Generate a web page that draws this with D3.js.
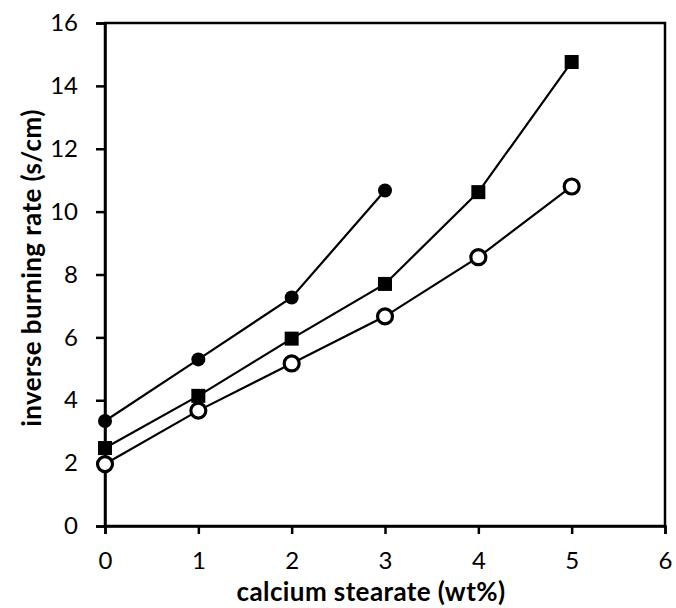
<!DOCTYPE html>
<html><head><meta charset="utf-8">
<script src="https://cdn.jsdelivr.net/npm/d3@7"></script>
<style>body{margin:0;background:#fff}svg{display:block}</style>
</head><body>
<script>
const xValues = [0, 1, 2, 3, 4, 5];
const seriesCircle = [3.34, 5.30, 7.27, 10.67];
const seriesSquare = [2.48, 4.14, 5.96, 7.70, 10.62, 14.76];
const seriesOpen = [1.97, 3.67, 5.17, 6.67, 8.55, 10.80];
const xTicks = [0, 1, 2, 3, 4, 5, 6];
const yTicks = [0, 2, 4, 6, 8, 10, 12, 14, 16];
const xTitle = "calcium stearate (wt%)";
const yTitle = "inverse burning rate (s/cm)";

const W = 676, H = 608;
const svg = d3.select("body").append("svg").attr("width", W).attr("height", H);
const x = d3.scaleLinear().domain([0, 6]).range([105, 665]);
const y = d3.scaleLinear().domain([0, 16]).range([526, 23]);
const font = "Lato, 'Open Sans', sans-serif";

// frame
svg.append("rect").attr("x", x(0)).attr("y", y(16)).attr("width", x(6) - x(0)).attr("height", y(0) - y(16))
  .attr("fill", "none").attr("stroke", "#000").attr("stroke-width", 2.5);

const xAxis = svg.append("g").attr("transform", `translate(0,${y(0)})`)
  .call(d3.axisBottom(x).tickValues(xTicks).tickFormat(d3.format("d")).tickSize(8).tickPadding(20));
const yAxis = svg.append("g").attr("transform", `translate(${x(0)},0)`)
  .call(d3.axisLeft(y).tickValues(yTicks).tickFormat(d3.format("d")).tickSize(9).tickPadding(18));
[xAxis, yAxis].forEach(a => {
  a.select(".domain").attr("stroke-width", 2.5);
  a.selectAll(".tick line").attr("stroke-width", 2.5);
  a.selectAll("text").attr("font-family", font).attr("font-size", 24).attr("fill", "#000");
});
xAxis.selectAll("text").attr("dy", "0.62em");

const line = d3.line().x((d, i) => x(xValues[i])).y(d => y(d));
[seriesCircle, seriesSquare, seriesOpen].forEach(s => {
  svg.append("path").datum(s).attr("d", line).attr("fill", "none").attr("stroke", "#000").attr("stroke-width", 2.2);
});

svg.selectAll(".c").data(seriesCircle).enter().append("circle")
  .attr("cx", (d, i) => x(xValues[i])).attr("cy", d => y(d)).attr("r", 7).attr("fill", "#000");
svg.selectAll(".s").data(seriesSquare).enter().append("rect")
  .attr("x", (d, i) => x(xValues[i]) - 7).attr("y", d => y(d) - 7).attr("width", 14).attr("height", 14).attr("fill", "#000");
svg.selectAll(".o").data(seriesOpen).enter().append("circle")
  .attr("cx", (d, i) => x(xValues[i])).attr("cy", d => y(d)).attr("r", 7.5).attr("fill", "#fff")
  .attr("stroke", "#000").attr("stroke-width", 3.2);

svg.append("text").attr("x", 371).attr("y", 601).attr("text-anchor", "middle")
  .attr("font-family", font).attr("font-size", 26).attr("font-weight", "bold").attr("letter-spacing", 0.4).text(xTitle);
svg.append("text").attr("transform", "translate(41,268) rotate(-90)").attr("text-anchor", "middle")
  .attr("font-family", font).attr("font-size", 26).attr("font-weight", "bold").attr("letter-spacing", 0.4).text(yTitle);
</script>
</body></html>
